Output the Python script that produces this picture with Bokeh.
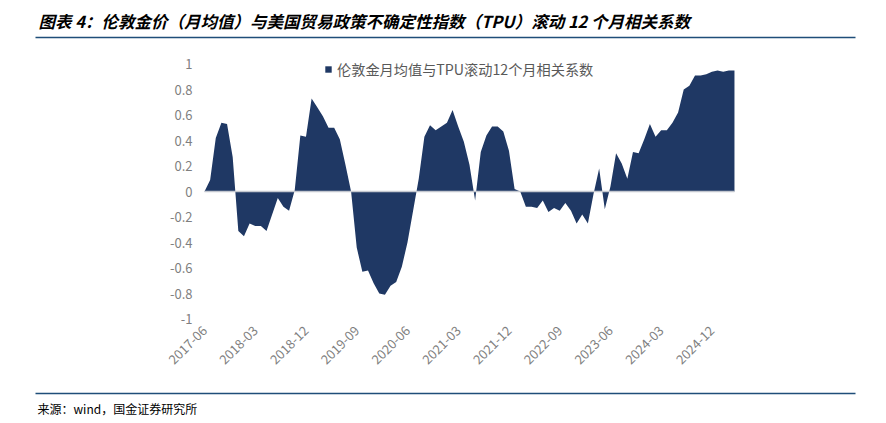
import math
import pandas as pd
from bokeh.plotting import figure
from bokeh.models import Range1d, FixedTicker, NumeralTickFormatter, Legend, LegendItem, LinearAxis
from bokeh.core.properties import value
from bokeh.embed import file_html
from bokeh.resources import INLINE

# ---------------- data ----------------
months = list(pd.date_range("2017-06-01", periods=95, freq="MS").strftime("%Y-%m"))
corr = [0.00, 0.09, 0.42, 0.54, 0.53, 0.27, -0.31, -0.35, -0.25, -0.27,
        -0.27, -0.31, -0.18, -0.05, -0.12, -0.15, 0.01, 0.44, 0.43, 0.73,
        0.66, 0.59, 0.50, 0.50, 0.41, 0.21, 0.00, -0.44, -0.63, -0.62,
        -0.72, -0.80, -0.81, -0.74, -0.71, -0.59, -0.40, -0.15, 0.10, 0.43,
        0.52, 0.48, 0.51, 0.54, 0.64, 0.51, 0.39, 0.21, -0.07, 0.31,
        0.44, 0.51, 0.51, 0.47, 0.32, 0.02, 0.00, -0.12, -0.12, -0.13,
        -0.07, -0.16, -0.13, -0.15, -0.09, -0.15, -0.25, -0.18, -0.25, -0.02,
        0.18, -0.14, 0.04, 0.30, 0.22, 0.10, 0.31, 0.30, 0.41, 0.53,
        0.43, 0.48, 0.48, 0.54, 0.62, 0.80, 0.83, 0.91, 0.91, 0.92,
        0.94, 0.95, 0.94, 0.95, 0.95]
tick_labels = ["2017-06", "2018-03", "2018-12", "2019-09", "2020-06", "2021-03",
               "2021-12", "2022-09", "2023-06", "2024-03", "2024-12"]
y_ticks = [-1, -0.8, -0.6, -0.4, -0.2, 0, 0.2, 0.4, 0.6, 0.8, 1]
series_name = "伦敦金月均值与TPU滚动12个月相关系数"
title_text = "图表 4：伦敦金价（月均值）与美国贸易政策不确定性指数（TPU）滚动 12 个月相关系数"
source_text = "来源：wind，国金证券研究所"

# ---------------- geometry / style ----------------
W, H = 884, 421
X0 = 204.0      # screen x of first month
PX = 5.638      # pixels per month
Y0 = 191.0      # screen y of value 0 (from top)
PY = 127.5      # pixels per unit of correlation

FONT = "Noto Sans CJK SC"
NAVY = "#1F3864"
RULE = "#1F4E79"
GRAY = "#7F7F7F"


def dx(sx):
    return (sx - X0) / PX


def dy(sy):
    return (Y0 - sy) / PY


p = figure(width=W, height=H, output_backend="svg", toolbar_location=None,
           x_range=Range1d(dx(0), dx(W)), y_range=Range1d(dy(H), dy(0)),
           x_axis_location=None, y_axis_location=None)
p.min_border = 0
p.min_border_left = 0
p.min_border_right = 0
p.min_border_top = 0
p.min_border_bottom = 0
p.outline_line_color = None
p.xgrid.visible = False
p.ygrid.visible = False

x_idx = list(range(len(corr)))

# area
area = p.varea(x=x_idx, y1=[0] * len(corr), y2=corr, fill_color=NAVY, fill_alpha=1.0)

# category axis line at zero
p.line(x=[x_idx[0], x_idx[-1]], y=[0, 0], line_color="#C3C7CF", line_width=1.6)

# y axis (value axis), drawn at the first category
yax = LinearAxis(fixed_location=x_idx[0])
yax.ticker = FixedTicker(ticks=y_ticks)
yax.formatter = NumeralTickFormatter(format="0.[0]")
yax.axis_line_color = None
yax.major_tick_line_color = None
yax.minor_tick_line_color = None
yax.major_tick_out = 0
yax.major_tick_in = 0
yax.major_label_standoff = 12
yax.major_label_text_font = FONT
yax.major_label_text_font_size = "13px"
yax.major_label_text_color = GRAY
p.add_layout(yax, "left")

# x axis labels at the bottom of the value range
x_tick_pos = [months.index(t) for t in tick_labels]
xax = LinearAxis(fixed_location=y_ticks[0])
xax.ticker = FixedTicker(ticks=x_tick_pos)
xax.major_label_overrides = {pos: lab for pos, lab in zip(x_tick_pos, tick_labels)}
xax.major_label_orientation = math.pi / 4
xax.axis_line_color = None
xax.major_tick_line_color = None
xax.minor_tick_line_color = None
xax.major_tick_out = 0
xax.major_tick_in = 0
xax.major_label_standoff = 9
xax.major_label_text_font = FONT
xax.major_label_text_font_size = "13px"
xax.major_label_text_color = GRAY
p.add_layout(xax, "below")

# legend
legend = Legend(items=[LegendItem(label=series_name, renderers=[area])],
                location=(324, H - 79), orientation="horizontal")
legend.padding = 0
legend.margin = 0
legend.spacing = 0
legend.glyph_width = 8
legend.glyph_height = 8
legend.label_height = 16
legend.label_standoff = 5
legend.label_text_font = FONT
legend.label_text_font_size = "14.2px"
legend.label_text_color = "#595959"
legend.border_line_color = None
legend.background_fill_alpha = 0
p.add_layout(legend)

# title, rules and source (page decoration)
p.text(x=[dx(38)], y=[dy(20)], text=[title_text], text_font=value(FONT),
       text_font_size="16.5px", text_font_style="bold italic",
       text_color="#000000", text_baseline="middle", text_align="left")
p.segment(x0=[dx(35)], y0=[dy(37)], x1=[dx(855)], y1=[dy(37)],
          line_color=RULE, line_width=1.6)
p.segment(x0=[dx(35)], y0=[dy(393)], x1=[dx(855)], y1=[dy(393)],
          line_color=RULE, line_width=1.6)
p.text(x=[dx(37)], y=[dy(408)], text=[source_text], text_font=value(FONT),
       text_font_size="12px", text_color="#000000",
       text_baseline="middle", text_align="left")

open("out.html", "w").write(file_html(p, INLINE))
